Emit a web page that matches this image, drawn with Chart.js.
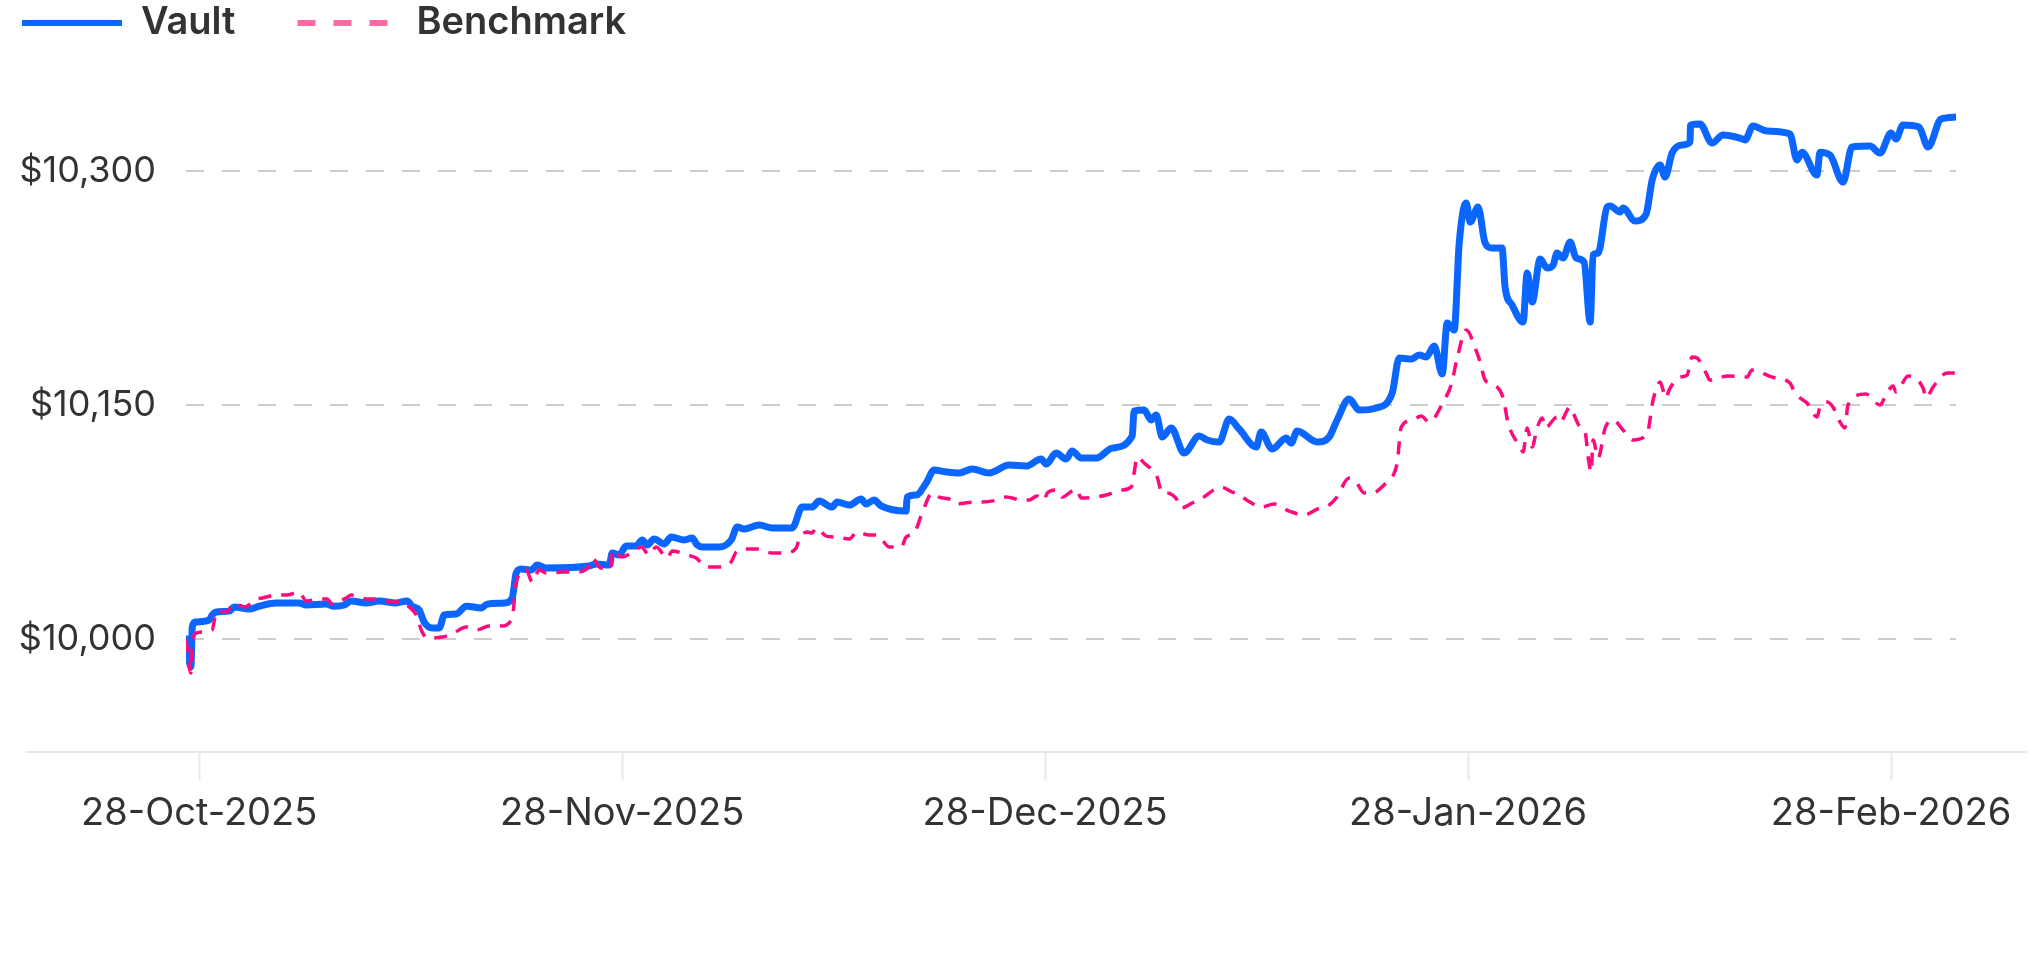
<!DOCTYPE html>
<html>
<head>
<meta charset="utf-8">
<script src="https://cdn.jsdelivr.net/npm/chart.js@4.4.1/dist/chart.umd.min.js"></script>
<style>
html,body{margin:0;padding:0;background:#ffffff;}
#wrap{width:2040px;height:974px;position:relative;}
</style>
</head>
<body>
<div id="wrap"><canvas id="c"></canvas></div>
<script>
// ---- data (days since 28-Oct-2025) ----
const tickLabels = ['28-Oct-2025', '28-Nov-2025', '28-Dec-2025', '28-Jan-2026', '28-Feb-2026'];
const tickDays = [0, 31, 61, 92, 123];
const monthStartDays = [0, 31, 61, 92, 123, 151];
const yTicks = [10000, 10150, 10300];
const seriesNames = ['Vault', 'Benchmark'];

const vaultDays = [
  -0.97, -0.61, -0.51, -0.29, 0.73, 0.95, 1.25, 2.2, 2.57, 3.66,
  4.4, 5.64, 7.33, 7.84, 9.31, 9.89, 10.63, 11.14, 12.24, 13.19,
  14.44, 15.24, 15.61, 16.12, 16.49, 17.08, 17.59, 17.96, 18.84, 19.57,
  20.67, 21.11, 22.35, 22.94, 23.23, 23.6, 24.33, 24.77, 25.43, 28.58,
  29.1, 30.05, 30.27, 30.78, 31.28, 31.99, 32.42, 32.77, 33.27, 33.98,
  34.48, 35.4, 35.96, 36.32, 36.67, 37.88, 38.73, 39.16, 39.65, 40.72,
  41.64, 43.06, 43.77, 44.47, 44.97, 45.89, 46.25, 47.1, 47.95, 48.3,
  48.87, 49.37, 51.14, 51.21, 51.85, 52.56, 53.13, 53.98, 54.9, 55.82,
  57.03, 58.45, 59.65, 60.72, 61.07, 61.81, 62.54, 62.98, 63.64, 64.74,
  65.91, 67.38, 67.52, 68.26, 68.77, 69.14, 69.58, 70.24, 71.19, 72.29,
  72.88, 73.76, 74.49, 75.22, 76.47, 76.83, 77.64, 78.67, 79.03, 79.47,
  80.94, 81.82, 82.4, 83.28, 84.02, 85.26, 86.44, 86.95, 87.83, 88.42,
  88.93, 89.52, 90.1, 90.47, 90.98, 91.35, 91.86, 92.15, 92.73, 93.25,
  93.76, 94.49, 94.71, 95.23, 96.03, 96.33, 96.69, 97.28, 97.79, 98.23,
  98.52, 98.96, 99.48, 99.92, 100.5, 100.95, 101.16, 101.53, 102.19, 102.41,
  103.14, 103.36, 104.24, 105.05, 105.49, 106.07, 106.44, 106.95, 107.69, 108.27,
  108.3, 109.0, 109.88, 110.68, 111.93, 112.3, 112.88, 113.91, 115.59, 116.11,
  116.47, 117.57, 117.79, 118.53, 119.48, 120.14, 121.46, 122.19, 123.0, 123.33,
  123.79, 124.85, 125.45, 126.31, 127.3
];
const vaultValues = [
  10000, 9982, 10007.5, 10010.7, 10012, 10015.2, 10017.1, 10017.7, 10020.3, 10019,
  10020.9, 10022.9, 10022.9, 10021.6, 10022.2, 10020.9, 10021.6, 10024.2, 10022.9, 10024.2,
  10022.9, 10024.2, 10020.9, 10018.4, 10010.7, 10006.9, 10006.9, 10015.2, 10015.8, 10020.9,
  10019.7, 10022.2, 10022.9, 10026.1, 10042.1, 10044.7, 10044, 10047.2, 10045.3, 10046.6,
  10047.9, 10047.2, 10054.9, 10053.7, 10059.4, 10059.4, 10063.3, 10060.1, 10063.9, 10060.7,
  10065.2, 10063.3, 10064.5, 10060.1, 10058.8, 10058.8, 10063.3, 10071.6, 10070.3, 10072.9,
  10071, 10071, 10084.4, 10084.4, 10088.3, 10084.4, 10087.6, 10085.7, 10089.5, 10086.3,
  10088.9, 10085.1, 10081.8, 10090.8, 10092.1, 10099.8, 10108.1, 10106.9, 10106.2, 10108.8,
  10106.2, 10111.3, 10110.7, 10115.2, 10112, 10119, 10115.2, 10120.3, 10115.8, 10115.8,
  10122.2, 10129.9, 10145.9, 10146.6, 10140.2, 10143.4, 10129.3, 10135, 10119, 10129.9,
  10127.4, 10126.1, 10140.8, 10134.4, 10122.9, 10132.5, 10121.6, 10128.6, 10125.4, 10133.1,
  10126.1, 10129.3, 10140.2, 10153.6, 10146.6, 10147.9, 10157.5, 10180, 10179.3, 10181.8,
  10180.6, 10187.6, 10169.7, 10202.4, 10197.9, 10253.6, 10279.3, 10267.1, 10276.7, 10253.6,
  10250.4, 10250.4, 10225.4, 10213.9, 10203, 10234.4, 10215.8, 10243.4, 10237.6, 10239.5,
  10247.2, 10244, 10254.3, 10244, 10241.5, 10203, 10246, 10247.2, 10276.7, 10277.4,
  10273.5, 10276.1, 10267.7, 10272.2, 10294, 10303.6, 10295.9, 10311.3, 10316.5, 10318.4,
  10329.3, 10329.9, 10317.7, 10322.9, 10320.9, 10319.7, 10328.6, 10325.4, 10323.5, 10306.8,
  10311.9, 10297.2, 10311.9, 10310, 10292.7, 10315.2, 10315.8, 10311.3, 10324.1, 10320.3,
  10329.3, 10328, 10315.2, 10333.1, 10334.4
];

const benchDays = [
  -0.97, -0.61, -0.51, -0.22, 0.22, 0.95, 1.25, 1.98, 2.57, 3.3,
  4.18, 4.62, 5.64, 6.38, 7.33, 7.84, 8.94, 9.38, 9.75, 10.77,
  11.14, 12.24, 12.97, 14.14, 14.88, 15.39, 15.9, 16.34, 16.71, 17.81,
  18.54, 19.57, 20.3, 21.25, 22.13, 22.94, 23.23, 23.97, 24.41, 24.92,
  25.43, 26.6, 27.63, 28.58, 28.8, 29.46, 30.2, 30.27, 31.0, 31.85,
  32.35, 32.91, 33.41, 34.19, 34.55, 35.61, 36.25, 36.96, 37.88, 38.73,
  39.09, 39.87, 40.58, 41.64, 42.49, 43.34, 43.56, 44.12, 44.47, 44.76,
  45.47, 46.18, 47.1, 47.67, 48.52, 49.09, 49.94, 50.79, 51.14, 51.71,
  52.28, 52.99, 53.48, 54.4, 54.69, 55.96, 56.53, 57.6, 58.23, 59.37,
  59.86, 60.43, 60.93, 61.15, 61.88, 62.25, 63.28, 63.64, 64.74, 65.47,
  66.57, 67.3, 67.52, 67.74, 68.26, 68.99, 69.21, 69.58, 69.95, 70.68,
  70.97, 71.78, 72.51, 73.9, 74.71, 75.0, 76.0, 76.83, 77.78, 78.88,
  79.98, 80.94, 81.82, 82.33, 83.28, 83.8, 84.38, 84.97, 85.99, 86.44,
  86.8, 87.1, 87.9, 88.56, 89.15, 90.25, 90.76, 91.2, 91.86, 92.66,
  92.88, 93.25, 93.76, 94.57, 94.93, 95.81, 96.03, 96.33, 96.69, 97.06,
  97.43, 97.65, 98.52, 98.74, 99.48, 99.7, 100.21, 100.58, 100.8, 101.02,
  101.16, 101.53, 102.05, 102.63, 103.36, 104.09, 105.12, 105.56, 106.07, 106.51,
  106.73, 107.54, 108.05, 108.42, 108.78, 109.44, 109.73, 111.05, 112.44, 112.81,
  114.28, 115.59, 115.96, 116.33, 116.84, 117.57, 117.79, 118.3, 118.74, 119.26,
  119.62, 119.84, 121.16, 122.19, 122.56, 123.13, 123.33, 124.13, 125.12, 125.32,
  125.78, 126.71, 127.3
];
const benchValues = [
  10000, 9978, 9997.2, 10003.6, 10004.3, 10005.6, 10017.1, 10017.1, 10022.9, 10020.3,
  10025.4, 10026.1, 10028, 10028, 10029.9, 10024.2, 10025.4, 10025.4, 10022.2, 10026.1,
  10028, 10025.4, 10025.4, 10023.5, 10023.5, 10020.3, 10015.2, 10004.3, 10000.4, 10001.1,
  10003, 10007.5, 10005.6, 10008.1, 10008.1, 10013.3, 10036.3, 10044, 10036.3, 10044,
  10042.1, 10042.7, 10042.7, 10046.6, 10051.7, 10045.3, 10045.3, 10056.8, 10052.4, 10056.2,
  10058.8, 10053.7, 10058.8, 10051.7, 10056.2, 10053.7, 10051.7, 10046, 10046, 10049.2,
  10055.6, 10057.5, 10057.5, 10054.9, 10054.9, 10058.1, 10063.9, 10068.4, 10067.8, 10071,
  10065.8, 10065.2, 10063.9, 10068.4, 10066.5, 10066.5, 10058.8, 10058.8, 10065.2, 10067.8,
  10080.6, 10093.4, 10090.8, 10088.9, 10086.3, 10087.6, 10087.6, 10088.9, 10090.8, 10088.9,
  10088.9, 10091.5, 10088.9, 10093.4, 10095.3, 10090.8, 10096, 10090.2, 10090.8, 10092.1,
  10095.3, 10097.2, 10106.2, 10116.5, 10112.6, 10106.8, 10103.6, 10093.4, 10093.4, 10088.9,
  10083.8, 10087, 10090.2, 10097.2, 10094, 10093.4, 10087.6, 10084.4, 10086.3, 10081.8,
  10079.3, 10083.1, 10085.7, 10090.2, 10103, 10100.4, 10093.4, 10093.4, 10099.8, 10103.6,
  10112.6, 10135.7, 10140.2, 10142.7, 10138.9, 10153, 10162.6, 10179.9, 10197.9, 10183.1,
  10177.4, 10165.8, 10163.3, 10154.3, 10138.3, 10122.9, 10119.7, 10135.1, 10122.9, 10135.1,
  10141.5, 10135.1, 10142.1, 10138.9, 10148.5, 10144.7, 10135.7, 10132.5, 10116.5, 10106.8,
  10127.4, 10115.8, 10135.1, 10140.2, 10133.8, 10127.4, 10131.2, 10153, 10164.5, 10154.3,
  10159.4, 10167.7, 10169, 10180.6, 10179.9, 10170.3, 10165.8, 10168.4, 10167.7, 10172.2,
  10167.7, 10163.9, 10157.5, 10154.3, 10151.1, 10142.1, 10148.5, 10151.7, 10148.5, 10138.9,
  10135.1, 10149.8, 10156.8, 10149.8, 10154.9, 10162, 10158.1, 10168.4, 10160.7, 10154.3,
  10161.3, 10170.3, 10170.3
];

// ---- helpers ----
// calendar-month coordinate: each 28th-to-28th month is one unit
function dayToMonth(d) {
  const b = monthStartDays;
  let k = 0;
  while (k < b.length - 2 && d > b[k + 1]) k++;
  return k + (d - b[k]) / (b[k + 1] - b[k]);
}
function toPoints(days, vals) {
  return days.map((d, i) => ({ x: dayToMonth(d), y: vals[i] }));
}

const FONT = 'Inter';
const TEXT = '#333333';
const BLUE = '#0a66ff';
const PINK = '#ff0a7c';
const PINK_LEGEND = '#ff6aa6';

const legendBlock = {
  id: 'legendBlock',
  beforeInit(chart) {
    const lg = chart.legend;
    if (!lg) return;
    const fit = lg.fit;
    lg.fit = function () { fit.call(this); this.height = 134; };
  }
};
const baseline = {
  id: 'baseline',
  beforeDatasetsDraw(chart) {
    const ctx = chart.ctx;
    const y = chart.scales.x.top;
    ctx.save();
    ctx.strokeStyle = '#e8e8e8';
    ctx.lineWidth = 2;
    ctx.beginPath();
    ctx.moveTo(26, y);
    ctx.lineTo(chart.width - 13, y);
    ctx.stroke();
    ctx.restore();
  }
};

new Chart(document.getElementById('c'), {
  type: 'line',
  data: {
    datasets: [
      {
        label: seriesNames[0],
        data: toPoints(vaultDays, vaultValues),
        borderColor: BLUE,
        backgroundColor: BLUE,
        borderWidth: 7,
        pointRadius: 0,
        cubicInterpolationMode: 'monotone',
        borderJoinStyle: 'round',
        borderCapStyle: 'round',
        fill: false,
        order: 2
      },
      {
        label: seriesNames[1],
        data: toPoints(benchDays, benchValues),
        borderColor: PINK,
        backgroundColor: PINK,
        borderWidth: 3.5,
        borderDash: [13, 10],
        pointRadius: 0,
        cubicInterpolationMode: 'monotone',
        fill: false,
        order: 1
      }
    ]
  },
  options: {
    responsive: true,
    maintainAspectRatio: false,
    animation: false,
    layout: { padding: { top: -58, left: -40, right: 84, bottom: 0 } },
    plugins: {
      tooltip: { enabled: false },
      legend: {
        position: 'top',
        align: 'start',
        labels: {
          usePointStyle: true,
          pointStyleWidth: 100,
          padding: 62,
          color: TEXT,
          font: { family: FONT, size: 38, weight: '600' },
          generateLabels: (chart) => chart.data.datasets.map((ds, i) => ({
            text: ds.label,
            fillStyle: 'rgba(0,0,0,0)',
            strokeStyle: i === 0 ? BLUE : PINK_LEGEND,
            lineWidth: 6,
            lineDash: i === 0 ? [] : [18, 18],
            lineCap: 'butt',
            pointStyle: 'line',
            fontColor: TEXT,
            hidden: false,
            datasetIndex: i
          }))
        }
      }
    },
    scales: {
      x: {
        type: 'linear',
        min: dayToMonth(vaultDays[0]),
        max: dayToMonth(vaultDays[vaultDays.length - 1]),
        afterBuildTicks: (s) => { s.ticks = tickDays.map(d => ({ value: dayToMonth(d) })); },
        afterFit: (s) => { s.height = 222; },
        ticks: {
          autoSkip: false,
          maxRotation: 0,
          padding: 11,
          color: TEXT,
          font: { family: FONT, size: 38 },
          callback: (v, i) => tickLabels[i]
        },
        grid: { drawOnChartArea: false, drawTicks: true, tickLength: 28, tickWidth: 2, tickColor: '#e8e8e8' },
        border: { display: false }
      },
      y: {
        min: 9927.4,
        max: 10360.7,
        afterBuildTicks: (s) => { s.ticks = yTicks.map(v => ({ value: v })); },
        afterFit: (s) => { s.width = 226; },
        ticks: {
          padding: 30,
          color: TEXT,
          font: { family: FONT, size: 36 },
          callback: (v) => '$' + Number(v).toLocaleString('en-US')
        },
        grid: { color: '#cccccc', lineWidth: 2, drawTicks: false },
        border: { display: false, dash: [18, 18] }
      }
    }
  },
  plugins: [legendBlock, baseline]
});
</script>
</body>
</html>
